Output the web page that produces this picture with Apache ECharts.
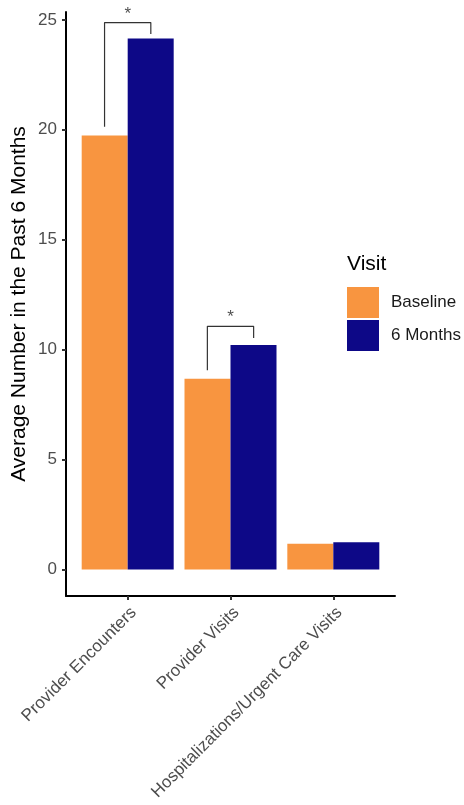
<!DOCTYPE html>
<html>
<head>
<meta charset="utf-8">
<script src="https://cdn.jsdelivr.net/npm/echarts@6/dist/echarts.min.js"></script>
<style>
  html, body { margin: 0; padding: 0; background: #fff; }
  #chart { width: 464px; height: 805px; }
</style>
</head>
<body>
<div id="chart"></div>
<script>
// Average healthcare use in the past 6 months, by visit
const categories = ['Provider Encounters', 'Provider Visits', 'Hospitalizations/Urgent Care Visits'];
const baseline = [19.74, 8.67, 1.17];
const sixMonths = [24.15, 10.21, 1.24];
const yTicks = [0, 5, 10, 15, 20, 25];
// significance brackets: [category index, left leg bottom, right leg bottom, bracket top]
const brackets = [
  [0, 20.14, 24.36, 24.88],
  [1, 9.06, 10.53, 11.06]
];

const ORANGE = '#F89540';
const NAVY = '#0D0887';
const FONT = 'Liberation Sans';
const pos = i => i + 1;            // category centre on the numeric x scale
const dodge = 0.225;               // half of one bar's width in x units

const bracketSeries = brackets.map(b => ({
  type: 'line',
  silent: true,
  symbol: 'none',
  lineStyle: { color: '#333333', width: 1.2 },
  data: [
    [pos(b[0]) - dodge, b[1]],
    [pos(b[0]) - dodge, b[3]],
    [pos(b[0]) + dodge, b[3]],
    [pos(b[0]) + dodge, b[2]]
  ],
  z: 3
}));

const starSeries = {
  type: 'scatter',
  silent: true,
  symbolSize: 0,
  data: brackets.map(b => [pos(b[0]), b[3]]),
  label: {
    show: true,
    position: 'top',
    distance: 0,
    formatter: '*',
    fontFamily: FONT,
    fontSize: 17,
    color: '#222'
  },
  z: 3
};

const chart = echarts.init(document.getElementById('chart'));
chart.setOption({
  animation: false,
  textStyle: { fontFamily: FONT },
  title: {
    text: 'Visit',
    left: 347,
    top: 254,
    padding: 0,
    textStyle: { fontSize: 21, fontWeight: 'normal', color: '#000', fontFamily: FONT }
  },
  legend: {
    data: ['Baseline', '6 Months'],
    orient: 'vertical',
    left: 347,
    top: 287,
    padding: 0,
    itemWidth: 32,
    itemHeight: 31,
    itemGap: 2,
    icon: 'rect',
    textStyle: { fontSize: 17, color: '#1a1a1a', padding: [2, 0, 0, 7] }
  },
  grid: { left: 66, right: 69, top: 12, bottom: 209, containLabel: false, outerBoundsMode: 'none' },
  xAxis: {
    type: 'value',
    min: 0.4,
    max: 3.6,
    splitLine: { show: false },
    axisLine: { show: true, onZero: false, lineStyle: { color: '#000', width: 2 } },
    axisTick: { show: true, customValues: [1, 2, 3], length: 4, lineStyle: { color: '#333', width: 2 } },
    axisLabel: {
      customValues: [1, 2, 3],
      formatter: v => categories[Math.round(v) - 1] || '',
      rotate: 45,
      verticalAlign: 'top',
      fontSize: 17,
      color: '#4d4d4d',
      margin: 8
    }
  },
  yAxis: {
    type: 'value',
    min: -1.21,
    max: 25.36,
    name: 'Average Number in the Past 6 Months',
    nameLocation: 'middle',
    nameGap: 36,
    nameMoveOverlap: false,
    nameTextStyle: { fontSize: 21, color: '#000' },
    splitLine: { show: false },
    axisLine: { show: true, onZero: false, lineStyle: { color: '#000', width: 2 } },
    axisTick: { show: true, customValues: yTicks, length: 4, lineStyle: { color: '#333', width: 2 } },
    axisLabel: { customValues: yTicks, fontSize: 17, color: '#4d4d4d', margin: 9 }
  },
  series: [
    {
      name: 'Baseline',
      type: 'bar',
      barWidth: 46,
      barGap: '0%',
      itemStyle: { color: ORANGE },
      data: baseline.map((v, i) => [pos(i), v])
    },
    {
      name: '6 Months',
      type: 'bar',
      barWidth: 46,
      barGap: '0%',
      itemStyle: { color: NAVY },
      data: sixMonths.map((v, i) => [pos(i), v])
    },
    ...bracketSeries,
    starSeries
  ]
});
</script>
</body>
</html>
